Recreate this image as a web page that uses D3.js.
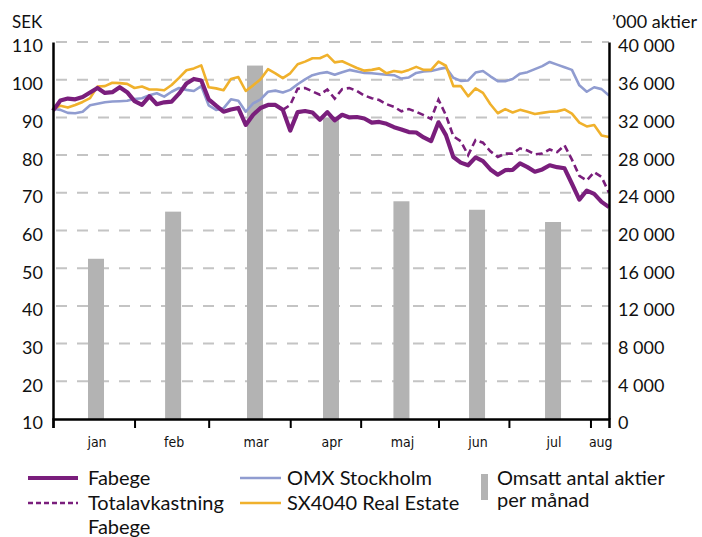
<!DOCTYPE html>
<html>
<head>
<meta charset="utf-8">
<script src="https://cdn.jsdelivr.net/npm/d3@7"></script>
<style>
  body { margin: 0; background: #fff; }
  svg { display: block; font-family: Lato, "Noto Sans", sans-serif; }
  .months text { font-family: "Liberation Sans Narrow", "DejaVu Sans Condensed", sans-serif; }
</style>
</head>
<body>
<svg></svg>
<script>
const w = 702;
const h = 537;
const plotLeft = 53;
const plotRight = 609;
const plotTop = 42;
const plotBottom = 419;

// trading-day index, sampled every second day
const days = d3.range(0, 151, 2);

const fabege = [91.8, 94.5, 95.0, 94.8, 95.4, 96.6, 97.8, 96.5, 96.7, 98.0,
  96.7, 94.3, 93.3, 95.6, 93.5, 94.0, 94.2, 96.3, 99.0, 100.2,
  99.8, 94.8, 93.1, 91.5, 92.1, 92.5, 88.0, 90.7, 92.5, 93.3,
  93.3, 92.0, 86.5, 91.4, 91.7, 91.3, 89.4, 91.4, 89.2, 90.7,
  90.0, 90.1, 89.7, 88.6, 88.8, 88.3, 87.4, 86.8, 86.1, 86.0,
  84.7, 83.7, 88.7, 85.3, 79.5, 78.0, 77.3, 79.4, 78.4, 76.2,
  74.8, 76.0, 76.1, 77.8, 76.8, 75.6, 76.2, 77.3, 76.8, 76.5,
  72.4, 68.2, 70.6, 69.7, 67.6, 66.2];

const totalavkastning = [null, null, null, null, null, null, null, null, null, null,
  null, null, null, null, null, null, null, null, null, null,
  null, null, null, null, null, null, null, null, null, null,
  null, 92.0, 93.3, 97.6, 97.8, 96.9, 96.0, 97.4, 95.0, 97.5,
  97.8, 97.0, 95.8, 95.1, 94.6, 93.5, 92.8, 91.6, 92.2, 91.5,
  90.6, 89.6, 94.7, 90.6, 85.0, 83.7, 80.0, 84.0, 83.3, 81.0,
  79.5, 80.4, 80.4, 81.8, 81.2, 80.2, 80.4, 81.5, 80.8, 82.6,
  78.8, 74.5, 73.3, 75.5, 74.2, 70.0];

const omx = [92.3, 92.0, 91.2, 91.1, 91.5, 93.2, 93.6, 94.0, 94.2, 94.3,
  94.4, 94.9, 95.1, 95.9, 96.4, 95.5, 96.8, 97.8, 97.3, 97.0,
  98.3, 93.2, 92.0, 92.4, 94.8, 94.4, 91.5, 93.7, 94.8, 96.8,
  97.1, 96.6, 97.3, 98.8, 100.1, 101.2, 101.7, 102.0, 101.3, 102.0,
  102.6, 102.2, 101.8, 101.7, 101.5, 101.3, 101.2, 100.3, 100.6, 101.8,
  102.2, 102.3, 102.8, 103.2, 100.5, 99.7, 99.8, 101.9, 102.3, 100.9,
  99.6, 99.6, 100.2, 101.6, 102.0, 102.8, 103.6, 104.7, 104.0, 103.3,
  102.6, 98.5, 96.8, 98.0, 97.5, 95.8];

const sx4040 = [92.3, 93.1, 92.6, 93.3, 94.1, 95.1, 98.2, 98.3, 99.2, 99.1,
  98.9, 97.8, 98.2, 97.4, 97.4, 97.2, 98.6, 100.5, 102.5, 103.0,
  103.8, 98.0, 97.7, 97.2, 100.2, 100.7, 97.0, 98.5, 100.1, 102.8,
  101.7, 100.4, 101.7, 104.1, 104.8, 105.7, 105.7, 106.6, 104.6, 104.9,
  104.0, 103.1, 102.4, 102.6, 103.0, 101.7, 102.3, 102.0, 102.6, 103.4,
  102.6, 102.6, 104.8, 103.7, 98.3, 98.3, 95.6, 97.7, 96.5, 93.5,
  91.1, 92.2, 91.3, 92.0, 91.5, 90.9, 91.2, 91.5, 91.6, 92.1,
  91.0, 88.6, 87.6, 88.0, 85.2, 84.8];

const months = ["jan", "feb", "mar", "apr", "maj", "jun", "jul", "aug"];
const monthStart = [0, 22, 42, 64, 83, 104, 123, 145, 150];
const barDay = [11.6, 32.4, 54.5, 75, 94, 114.4, 134.9];
const volume = [17000, 22000, 37500, 32000, 23100, 22200, 20900];

const sekTicks = d3.range(10, 111, 10);
const volTicks = d3.range(0, 40001, 4000);

const purple = "#7a1e7c";
const blue = "#909cd0";
const orange = "#f0b12c";
const grey = "#b3b3b3";

const svg = d3.select("svg").attr("width", w).attr("height", h);

const x = d3.scaleLinear().domain([0, 150]).range([plotLeft, plotRight]);
const y = d3.scaleLinear().domain([10, 110]).range([plotBottom, plotTop]);
const yVol = d3.scaleLinear().domain([0, 40000]).range([plotBottom, plotTop]);

/** dashed grid */
svg.append("g")
  .selectAll("line")
  .data(sekTicks.slice(1))
  .enter()
  .append("line")
  .attr("x1", plotLeft)
  .attr("x2", plotRight)
  .attr("y1", (d) => y(d))
  .attr("y2", (d) => y(d))
  .attr("stroke", "#c4c4c4")
  .attr("stroke-width", 2)
  .attr("stroke-dasharray", "11,10")
  .attr("stroke-dashoffset", -3);

/** monthly volume bars */
svg.append("g")
  .selectAll("rect")
  .data(volume)
  .enter()
  .append("rect")
  .attr("x", (d, i) => x(barDay[i]) - 8)
  .attr("width", 16)
  .attr("y", (d) => yVol(d))
  .attr("height", (d) => plotBottom - yVol(d))
  .attr("fill", grey);

const line = (series) =>
  d3.line()
    .defined((d, i) => series[i] != null)
    .x((d) => x(d))
    .y((d, i) => y(series[i]))(days);

svg.append("path").attr("d", line(omx))
  .attr("fill", "none").attr("stroke", blue).attr("stroke-width", 2.6)
  .attr("stroke-linejoin", "round");
svg.append("path").attr("d", line(sx4040))
  .attr("fill", "none").attr("stroke", orange).attr("stroke-width", 2.6)
  .attr("stroke-linejoin", "round");
svg.append("path").attr("d", line(totalavkastning))
  .attr("fill", "none").attr("stroke", purple).attr("stroke-width", 2.6)
  .attr("stroke-dasharray", "7,4");
svg.append("path").attr("d", line(fabege))
  .attr("fill", "none").attr("stroke", purple).attr("stroke-width", 4.2)
  .attr("stroke-linejoin", "round");

/** axes */
const axisLeft = svg.append("g")
  .attr("transform", `translate(${plotLeft},0)`)
  .call(d3.axisLeft(y).tickValues(sekTicks).tickSize(0).tickPadding(10));
const axisRight = svg.append("g")
  .attr("transform", `translate(${plotRight},0)`)
  .call(d3.axisRight(yVol).tickValues(volTicks).tickSize(0).tickPadding(9)
    .tickFormat((d) => d3.format(",")(d).replace(/,/g, " ")));
[axisLeft, axisRight].forEach((g) => {
  g.select(".domain").attr("stroke", "#000").attr("stroke-width", 2.5);
  g.selectAll("text").attr("font-size", 18).attr("fill", "#111")
    .attr("font-family", "Lato, sans-serif").attr("dy", "0.55em");
});

const axisBottom = svg.append("g")
  .attr("transform", `translate(0,${plotBottom})`)
  .call(d3.axisBottom(x).tickValues(monthStart.slice(0, 8)).tickSize(9).tickFormat(""));
axisBottom.select(".domain").attr("stroke", "#000").attr("stroke-width", 2.5);
axisBottom.selectAll("line").attr("stroke", "#000").attr("stroke-width", 2);

/** month labels sit under the bars, aug in its own short segment */
svg.append("g")
  .attr("class", "months")
  .selectAll("text")
  .data(months)
  .enter()
  .append("text")
  .text((d) => d)
  .attr("x", (d, i) => x(i < barDay.length ? barDay[i] : (monthStart[i] + monthStart[i + 1]) / 2) + 1)
  .attr("y", 447)
  .attr("text-anchor", "middle")
  .attr("font-size", 14)
  .attr("fill", "#111");

svg.append("text").text("SEK").attr("x", 12).attr("y", 28)
  .attr("font-size", 17).attr("fill", "#111");
svg.append("text").text("\u2019000 aktier").attr("x", 612).attr("y", 28)
  .attr("font-size", 18).attr("fill", "#111");

/** legend */
const legend = svg.append("g").attr("font-size", 20).attr("fill", "#111");
legend.append("line").attr("x1", 28).attr("x2", 78).attr("y1", 478).attr("y2", 478)
  .attr("stroke", purple).attr("stroke-width", 4);
legend.append("line").attr("x1", 28).attr("x2", 78).attr("y1", 503).attr("y2", 503)
  .attr("stroke", purple).attr("stroke-width", 2.5).attr("stroke-dasharray", "5,3");
legend.append("line").attr("x1", 240).attr("x2", 281).attr("y1", 478).attr("y2", 478)
  .attr("stroke", blue).attr("stroke-width", 2.5);
legend.append("line").attr("x1", 240).attr("x2", 281).attr("y1", 503).attr("y2", 503)
  .attr("stroke", orange).attr("stroke-width", 2.5);
legend.append("rect").attr("x", 481).attr("y", 474).attr("width", 7).attr("height", 26)
  .attr("fill", grey);

const legendText = [
  ["Fabege", 88, 485],
  ["Totalavkastning", 88, 510],
  ["Fabege", 88, 534],
  ["OMX Stockholm", 287, 485],
  ["SX4040 Real Estate", 287, 510],
  ["Omsatt antal aktier", 497, 485],
  ["per m\u00e5nad", 497, 507]
];
legend.selectAll("text")
  .data(legendText)
  .enter()
  .append("text")
  .text((d) => d[0])
  .attr("x", (d) => d[1])
  .attr("y", (d) => d[2]);
</script>
</body>
</html>
